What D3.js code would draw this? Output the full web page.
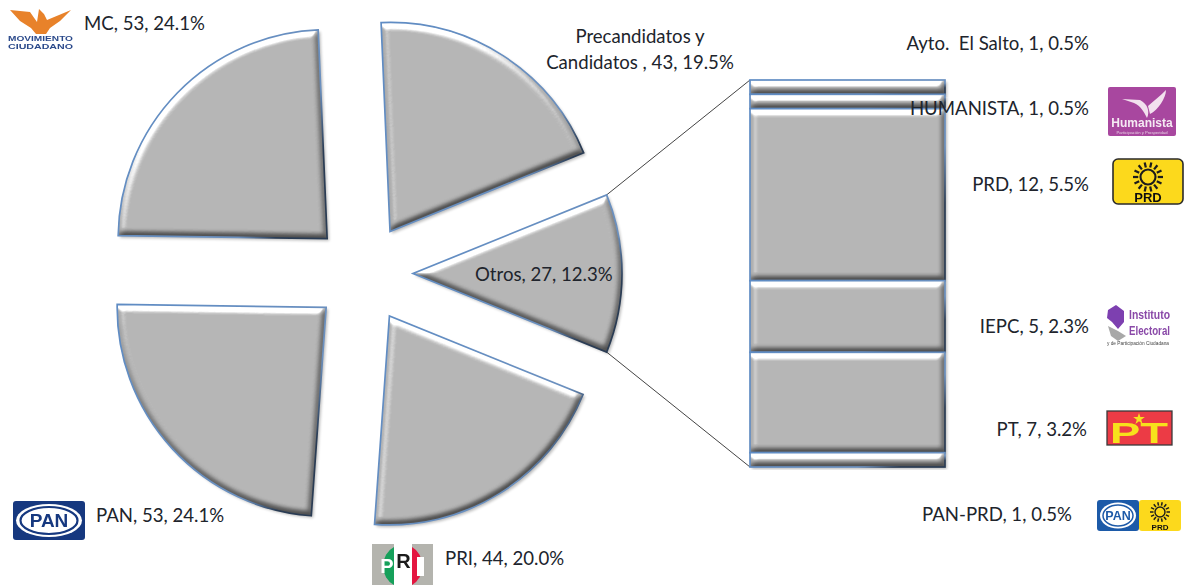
<!DOCTYPE html>
<html><head><meta charset="utf-8">
<script src="https://cdn.jsdelivr.net/npm/d3@7"></script>
<style>html,body{margin:0;background:#fff}svg{display:block}text{font-family:Lato,"Open Sans",sans-serif}</style>
</head><body><svg id="c" width="1185" height="585"></svg>
<script>
const pieCats=["PRI","PAN","MC","Precandidatos y Candidatos ","Otros"];
const pieVals=[44,53,53,43,27];
const piePcts=["20.0%","24.1%","24.1%","19.5%","12.3%"];
const barCats=["Ayto.  El Salto","HUMANISTA","PRD","IEPC","PT","PAN-PRD"];
const barVals=[1,1,12,5,7,1];
const barPcts=["0.5%","0.5%","5.5%","2.3%","3.2%","0.5%"];

const W=1185,H=585,cx=363,cy=273.5,R=209,ex=50;
const svg=d3.select("#c");
const defs=svg.append("defs");
const f=defs.append("filter").attr("id","bevel").attr("x","-10%").attr("y","-10%").attr("width","125%").attr("height","125%")
  .attr("filterUnits","objectBoundingBox").attr("color-interpolation-filters","sRGB");
f.append("feGaussianBlur").attr("in","SourceAlpha").attr("stdDeviation",3).attr("result","h");
const dl=f.append("feDiffuseLighting").attr("in","h").attr("surfaceScale",5).attr("diffuseConstant",0.707).attr("lighting-color","#fff").attr("result","l0");
dl.append("feDistantLight").attr("azimuth",250).attr("elevation",45);
const ct=f.append("feComponentTransfer").attr("in","l0").attr("result","l");
["feFuncR","feFuncG","feFuncB"].forEach(n=>ct.append(n).attr("type","table").attr("tableValues","0.2 0.33 0.5 1 1"));
f.append("feComposite").attr("in","SourceGraphic").attr("in2","l").attr("operator","arithmetic")
  .attr("k1",0).attr("k2",1).attr("k3",1.3).attr("k4",-0.65).attr("result","lit");
f.append("feComposite").attr("in","lit").attr("in2","SourceAlpha").attr("operator","in").attr("result","clip");
f.append("feGaussianBlur").attr("in","SourceAlpha").attr("stdDeviation",1.8).attr("result","sb");
f.append("feOffset").attr("in","sb").attr("dx",1.5).attr("dy",2).attr("result","so");
f.append("feComponentTransfer").attr("in","so").attr("result","sa").append("feFuncA").attr("type","linear").attr("slope",0.28);
const m=f.append("feMerge");m.append("feMergeNode").attr("in","sa");m.append("feMergeNode").attr("in","clip");
defs.append("filter").attr("id","soft").attr("x","-5%").attr("y","-5%").attr("width","110%").attr("height","110%")
  .append("feGaussianBlur").attr("stdDeviation",0.45);

const g1=defs.append("linearGradient").attr("id","edge").attr("x1",0).attr("y1",0).attr("x2",1).attr("y2",0.55);
g1.append("stop").attr("offset",0).attr("stop-color","#5f8cc4");
g1.append("stop").attr("offset",0.86).attr("stop-color","#6b90bf");
g1.append("stop").attr("offset",1).attr("stop-color","#2a3c54");

// pie: Otros is centred on the right-hand horizontal
const total=d3.sum(pieVals);
const otrosHalf=pieVals[4]/total*Math.PI;
const pie=d3.pie().sort(null).value(d=>d).startAngle(Math.PI/2+otrosHalf).endAngle(Math.PI/2+otrosHalf+2*Math.PI);
const arcs=pie(pieVals);
const arc=d3.arc().innerRadius(0).outerRadius(R);
const off=d=>{const a=(d.startAngle+d.endAngle)/2;return [cx+ex*Math.sin(a),cy-ex*Math.cos(a)];};
const gp=svg.append("g");

// connectors from Otros to the bar
const barX0=750,barX1=945;
const y=d3.scaleLinear().domain([0,d3.sum(barVals)]).range([80,467]);
const ot=arcs[4],o=off(ot);
const pt=a=>[o[0]+R*Math.sin(a),o[1]-R*Math.cos(a)];
const a0=pt(ot.startAngle),a1=pt(ot.endAngle);
const line=d3.line();
gp.append("path").attr("d",line([a0,[barX0,y(0)]])).attr("stroke","#444").attr("fill","none");
gp.append("path").attr("d",line([a1,[barX0,y(d3.sum(barVals))]])).attr("stroke","#444").attr("fill","none");

const sl=gp.selectAll("g.s").data(arcs).join("g").attr("class","s").attr("transform",d=>`translate(${off(d)})`);
sl.append("path").attr("d",arc).attr("fill","#b7b7b7").attr("filter","url(#bevel)");
sl.append("path").attr("d",arc).attr("fill","none").attr("stroke","url(#edge)").attr("stroke-width",1.7);

// stacked bar
let cum=0;const stacks=barVals.map(v=>{const s={y0:cum,y1:cum+v};cum+=v;return s;});
const bars=svg.append("g").selectAll("g").data(stacks).join("g");
bars.append("rect").attr("x",barX0).attr("width",barX1-barX0).attr("y",d=>y(d.y0)).attr("height",d=>y(d.y1)-y(d.y0))
  .attr("fill","#b7b7b7").attr("filter","url(#bevel)");
bars.append("rect").attr("x",barX0).attr("width",barX1-barX0).attr("y",d=>y(d.y0)).attr("height",d=>y(d.y1)-y(d.y0))
  .attr("fill","none").attr("stroke","url(#edge)").attr("stroke-width",1.7);

// labels
const lab=(s,x,yy,anchor)=>svg.append("text").attr("x",x).attr("y",yy).attr("text-anchor",anchor||"start")
  .attr("xml:space","preserve").style("white-space","pre")
  .attr("font-size",18.6).attr("fill","#20242c").text(s);
const pl=i=>`${pieCats[i]}, ${pieVals[i]}, ${piePcts[i]}`;
const bl=i=>`${barCats[i]}, ${barVals[i]}, ${barPcts[i]}`;
lab(pl(0),445,565);lab(pl(1),96,522);lab(pl(2),84,30);lab(pl(4),475,281);
lab("Precandidatos y",640,43,"middle");
lab(`Candidatos , ${pieVals[3]}, ${piePcts[3]}`,640,69,"middle");
[[50,1089],[115,1089],[191,1089],[333,1089],[436,1087],[521,1072]].forEach((p,i)=>lab(bl(i),p[1],p[0],"end"));

// party logos
const lg=svg.append("g").attr("filter","url(#soft)");
const t=(s,x,yy,size,fill,w,anchor)=>lg.append("text").attr("x",x).attr("y",yy).attr("font-size",size).attr("fill",fill)
  .attr("font-weight",w||700).attr("text-anchor",anchor||"middle").style("font-family","'Liberation Sans'").text(s);
function sun(x,yy,r,col,n){
  const g=lg.append("g").attr("transform",`translate(${x},${yy})`);
  g.append("circle").attr("r",r*0.5).attr("fill","none").attr("stroke",col).attr("stroke-width",r*0.14);
  d3.range(n).forEach(i=>{const a=i/n*2*Math.PI;
    g.append("line").attr("x1",r*0.65*Math.cos(a)).attr("y1",r*0.65*Math.sin(a)).attr("x2",r*Math.cos(a)).attr("y2",r*Math.sin(a))
     .attr("stroke",col).attr("stroke-width",r*0.15);});
}
// Movimiento Ciudadano
lg.append("path").attr("d","M10,10 L30,12 L37,22 L39,9 L44,14 L47,20 L71,10 L60,21 L50,28 L46,34 L36,34 L31,28 L20,21 Z").attr("fill","#e8822a");
t("MOVIMIENTO",40.5,41,8,"#2b4a8b",900).attr("textLength",65).attr("lengthAdjust","spacingAndGlyphs");
t("CIUDADANO",40.5,49,8,"#2b4a8b",900).attr("textLength",65).attr("lengthAdjust","spacingAndGlyphs");
// Humanista
lg.append("rect").attr("x",1108).attr("y",87).attr("width",68).attr("height",49).attr("rx",2).attr("fill","#a8479f");
lg.append("path").attr("d","M1122,99 L1140,100 C1148,104 1150,112 1147,118 C1144,112 1141,106 1134,103 Z M1148,106 C1155,100 1160,96 1166,90 C1166,98 1158,110 1150,114 Z").attr("fill","#f2e0ee");
t("Humanista",1142,127,12,"#f5eaf3");
t("Participación y Prosperidad",1142,134,4.2,"#e6cfe2",400);
// PRD
lg.append("rect").attr("x",1113).attr("y",159).attr("width",70).attr("height",45).attr("rx",5).attr("fill","#fcd91e").attr("stroke","#2a2a2a").attr("stroke-width",1.6);
sun(1148,177,15,"#1d1d1d",14);
t("PRD",1148,202,13,"#111",900);
// IEPC
lg.append("path").attr("d","M1116,305 L1124,311 L1124,322 L1118,329 L1112,322 L1107,318 L1108,310 Z").attr("fill","#7d3fb0");
lg.append("path").attr("d","M1108,326 L1118,331 L1126,336 L1118,341 L1111,336 Z").attr("fill","#a8a8a8");
t("Instituto",1129,319,12.5,"#8a4aa8",700,"start").attr("textLength",41).attr("lengthAdjust","spacingAndGlyphs");
t("Electoral",1129,335,12.5,"#8a4aa8",700,"start").attr("textLength",41).attr("lengthAdjust","spacingAndGlyphs");
t("y de Participación Ciudadana",1107,345,5,"#444",400,"start").attr("textLength",62).attr("lengthAdjust","spacingAndGlyphs");
// PT
lg.append("rect").attr("x",1107).attr("y",411).attr("width",65).attr("height",34).attr("fill","#ec3a44").attr("stroke","#3a3a3a").attr("stroke-width",1.3);
t("PT",1139,443,29,"#f7e11d",900).attr("textLength",58).attr("lengthAdjust","spacingAndGlyphs");
lg.append("path").attr("d",d3.symbol(d3.symbolStar,42)()).attr("transform","translate(1139,419)").attr("fill","#f7e11d");
// PAN-PRD
lg.append("rect").attr("x",1097).attr("y",500).attr("width",42).attr("height",31).attr("rx",3).attr("fill","#1f5aa8");
lg.append("ellipse").attr("cx",1118).attr("cy",515.5).attr("rx",18).attr("ry",13).attr("fill","#fff");
lg.append("ellipse").attr("cx",1118).attr("cy",515.5).attr("rx",15).attr("ry",10.5).attr("fill","none").attr("stroke","#1f5aa8").attr("stroke-width",1.5);
t("PAN",1118,520,12.5,"#1f5aa8",900);
lg.append("rect").attr("x",1139).attr("y",500).attr("width",42).attr("height",31).attr("rx",3).attr("fill","#fcd91e");
sun(1160,512,10,"#1d1d1d",14);
t("PRD",1160,530,8,"#111",900);
// PAN
lg.append("rect").attr("x",13).attr("y",501).attr("width",72).attr("height",39).attr("rx",3).attr("fill","#14377f");
lg.append("ellipse").attr("cx",49).attr("cy",520.5).attr("rx",33).attr("ry",16.5).attr("fill","#fff");
lg.append("ellipse").attr("cx",49).attr("cy",520.5).attr("rx",28.5).attr("ry",13.5).attr("fill","none").attr("stroke","#14377f").attr("stroke-width",2.2);
t("PAN",49,527,19,"#14377f",900);
// PRI
lg.append("rect").attr("x",372).attr("y",544).attr("width",61).attr("height",41).attr("fill","#b4b4ae");
lg.append("path").attr("d","M394,547 A19,21 0 0 0 394,585 Z").attr("fill","#14a05a");
lg.append("rect").attr("x",394).attr("y",544).attr("width",18).attr("height",41).attr("fill","#fff");
lg.append("path").attr("d","M412,547 A18,21 0 0 1 412,585 Z").attr("fill","#e4153f");
t("P",387,573,20,"#fff",900);t("R",403.5,568,20,"#1a1a1a",900);
lg.append("rect").attr("x",417).attr("y",557).attr("width",7).attr("height",19).attr("fill","#fff");
</script></body></html>
